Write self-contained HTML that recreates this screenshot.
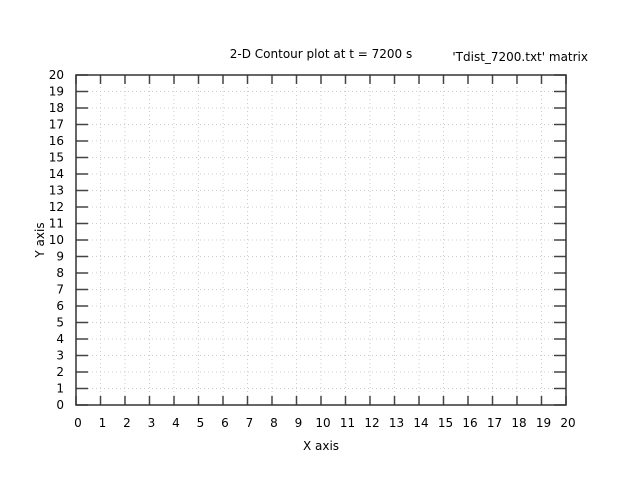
<!DOCTYPE html>
<html><head><meta charset="utf-8"><style>
body{margin:0;background:#fff;}
svg{display:block;font-family:"DejaVu Sans","Liberation Sans",sans-serif;font-size:12px;}
</style></head><body>
<svg id="chart" width="640" height="480">
<text x="321" y="58" text-anchor="middle">2-D Contour plot at t = 7200 s</text>
<text x="588" y="61" text-anchor="end">'Tdist_7200.txt' matrix</text>
<text x="321" y="450" text-anchor="middle">X axis</text>
<text x="44" y="240" text-anchor="middle" transform="rotate(-90 44 240)">Y axis</text>
<g id="grid"></g><g id="ticks"></g>
<rect x="76" y="75" width="490" height="330" fill="none" stroke="#333" stroke-width="1.5"/>
</svg>
<script>
const xTicks=[0,1,2,3,4,5,6,7,8,9,10,11,12,13,14,15,16,17,18,19,20];
const yTicks=[0,1,2,3,4,5,6,7,8,9,10,11,12,13,14,15,16,17,18,19,20];
const xDomain=[0,20], yDomain=[0,20];
const L=76,R=566,T=75,B=405;
const sx=v=>L+(v-xDomain[0])/(xDomain[1]-xDomain[0])*(R-L);
const sy=v=>B-(v-yDomain[0])/(yDomain[1]-yDomain[0])*(B-T);
const NS="http://www.w3.org/2000/svg";
const grid=document.getElementById('grid'),tk=document.getElementById('ticks');
function mk(p,tag,a){const e=document.createElementNS(NS,tag);for(const k in a)e.setAttribute(k,a[k]);p.appendChild(e);return e;}
xTicks.forEach(v=>{
 const x=sx(v);
 if(v>xDomain[0]&&v<xDomain[1]){
  const g=mk(grid,'line',{x1:x,x2:x,y1:T,y2:B,stroke:'#ccc','stroke-dasharray':'1,3'});
  
  
 }
 const a=mk(tk,'line',{x1:x,x2:x,y1:B,y2:B-9,stroke:'#444','stroke-width':1.5});
 
 
 const b=mk(tk,'line',{x1:x,x2:x,y1:T,y2:T+9,stroke:'#444','stroke-width':1.5});
 
 
 const t=mk(tk,'text',{x:x+2,y:427,'text-anchor':'middle'});t.textContent=v;
 
 
});
yTicks.forEach(v=>{
 const y=sy(v);
 if(v>yDomain[0]&&v<yDomain[1]){
  const g=mk(grid,'line',{x1:L,x2:R,y1:y,y2:y,stroke:'#ccc','stroke-dasharray':'1,3'});
  
  
 }
 const a=mk(tk,'line',{x1:L,x2:L+12,y1:y,y2:y,stroke:'#444','stroke-width':1.5});
 
 
 const b=mk(tk,'line',{x1:R,x2:R-12,y1:y,y2:y,stroke:'#444','stroke-width':1.5});
 
 
 const t=mk(tk,'text',{x:64,y:y+4,'text-anchor':'end'});t.textContent=v;
 
 
});
</script>
</body></html>
